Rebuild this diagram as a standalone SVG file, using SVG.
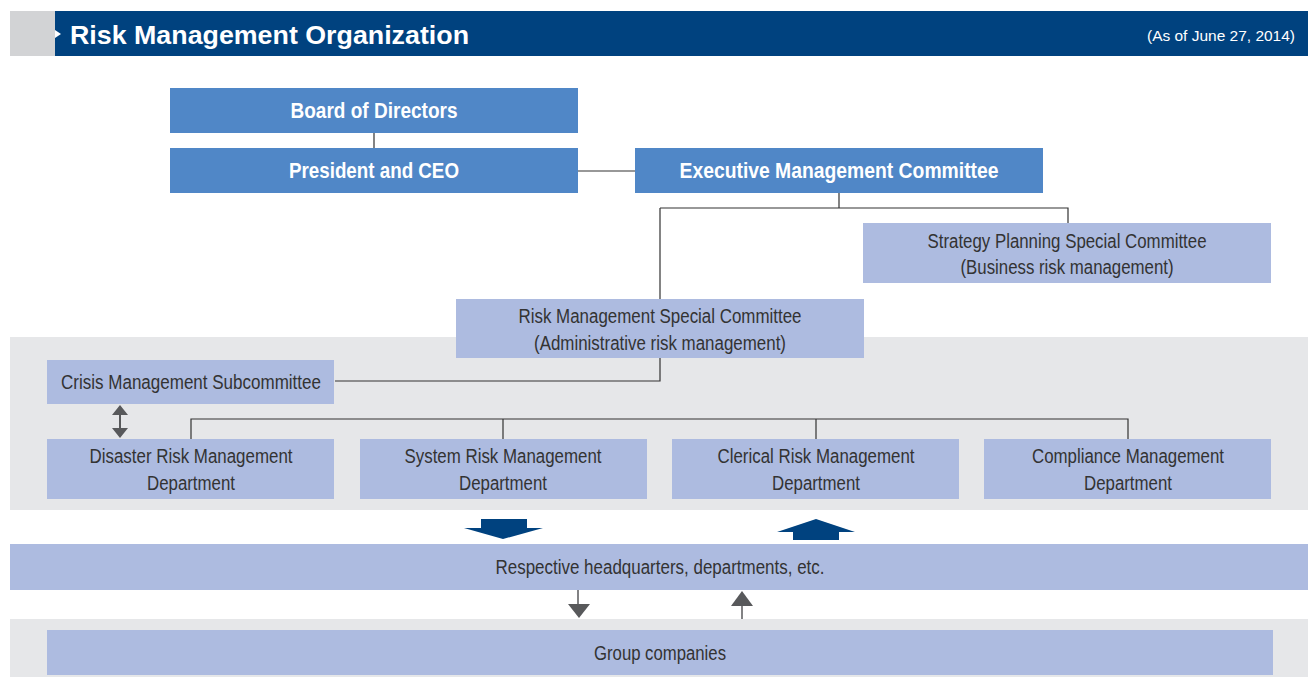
<svg xmlns="http://www.w3.org/2000/svg" width="1311" height="677" viewBox="0 0 1311 677">
<style>
.dark{fill:#5087c7}
.light{fill:#adbbe0}
.panel{fill:#e6e7e9}
.tw{font-family:"Liberation Sans",Arial,sans-serif;font-size:22px;font-weight:bold;fill:#fff;text-anchor:middle}
.tl{font-family:"Liberation Sans",Arial,sans-serif;font-size:20px;fill:#333;text-anchor:middle}
.ln{stroke:#333;stroke-width:1.2;fill:none}
</style>
<rect x="0" y="0" width="1311" height="677" fill="#fff"/>
<g id="header">
<rect x="10" y="11" width="45" height="45" fill="#d2d3d5"/>
<rect x="55" y="11" width="1253" height="45" fill="#00427f"/>
<polygon points="55,30 61,34 55,38" fill="#fff"/>
<text x="70" y="44" font-family="Liberation Sans,Arial,sans-serif" font-size="25" font-weight="bold" fill="#fff" textLength="399" lengthAdjust="spacingAndGlyphs">Risk Management Organization</text>
<text x="1147" y="41" font-family="Liberation Sans,Arial,sans-serif" font-size="15" fill="#fff" textLength="148" lengthAdjust="spacingAndGlyphs">(As of June 27, 2014)</text>
</g>
<rect class="panel" x="10" y="337" width="1298" height="173"/>
<rect class="panel" x="10" y="619" width="1298" height="58"/>
<g id="connectors">
<path class="ln" d="M374 133V148M578 171H635M839 193V208M660 208H1068V223M660 208V299M660 358V381H335M191 439V419H1128V439M503 419V439M816 419V439"/>
<path d="M120 405 L128 415 L112 415 Z M120 438 L128 428 L112 428 Z" fill="#58595b"/>
<rect x="119" y="414" width="2" height="15" fill="#58595b"/>
<path d="M481 519H527V528H543L503 539L464 528H481Z" fill="#00427f"/>
<path d="M816 519L855 532H839V540H793V532H777Z" fill="#00427f"/>
<line x1="578" y1="590" x2="578" y2="605" stroke="#58595b" stroke-width="1.5"/>
<path d="M568 604H590L579 618Z" fill="#58595b"/>
<line x1="742" y1="605" x2="742" y2="619" stroke="#58595b" stroke-width="1.5"/>
<path d="M742 591L753 606H731Z" fill="#58595b"/>
</g>
<g id="board"><rect class="dark" x="170" y="88" width="408" height="45"/><text class="tw" x="374" y="118" textLength="167" lengthAdjust="spacingAndGlyphs">Board of Directors</text></g>
<g id="president"><rect class="dark" x="170" y="148" width="408" height="45"/><text class="tw" x="374" y="178" textLength="170" lengthAdjust="spacingAndGlyphs">President and CEO</text></g>
<g id="exec"><rect class="dark" x="635" y="148" width="408" height="45"/><text class="tw" x="839" y="178" textLength="319" lengthAdjust="spacingAndGlyphs">Executive Management Committee</text></g>
<g id="strategy"><rect class="light" x="863" y="223" width="408" height="60"/><text class="tl" x="1067" y="248" textLength="279" lengthAdjust="spacingAndGlyphs">Strategy Planning Special Committee</text><text class="tl" x="1067" y="274" textLength="213" lengthAdjust="spacingAndGlyphs">(Business risk management)</text></g>
<g id="riskcommittee"><rect class="light" x="456" y="299" width="408" height="59"/><text class="tl" x="660" y="323" textLength="283" lengthAdjust="spacingAndGlyphs">Risk Management Special Committee</text><text class="tl" x="660" y="350" textLength="252" lengthAdjust="spacingAndGlyphs">(Administrative risk management)</text></g>
<g id="crisis"><rect class="light" x="47" y="360" width="287" height="44"/><text class="tl" x="191" y="389" textLength="260" lengthAdjust="spacingAndGlyphs">Crisis Management Subcommittee</text></g>
<g id="disaster"><rect class="light" x="47" y="439" width="287" height="60"/><text class="tl" x="191" y="463" textLength="203" lengthAdjust="spacingAndGlyphs">Disaster Risk Management</text><text class="tl" x="191" y="490" textLength="88" lengthAdjust="spacingAndGlyphs">Department</text></g>
<g id="system"><rect class="light" x="360" y="439" width="287" height="60"/><text class="tl" x="503" y="463" textLength="197" lengthAdjust="spacingAndGlyphs">System Risk Management</text><text class="tl" x="503" y="490" textLength="88" lengthAdjust="spacingAndGlyphs">Department</text></g>
<g id="clerical"><rect class="light" x="672" y="439" width="287" height="60"/><text class="tl" x="816" y="463" textLength="197" lengthAdjust="spacingAndGlyphs">Clerical Risk Management</text><text class="tl" x="816" y="490" textLength="88" lengthAdjust="spacingAndGlyphs">Department</text></g>
<g id="compliance"><rect class="light" x="984" y="439" width="287" height="60"/><text class="tl" x="1128" y="463" textLength="192" lengthAdjust="spacingAndGlyphs">Compliance Management</text><text class="tl" x="1128" y="490" textLength="88" lengthAdjust="spacingAndGlyphs">Department</text></g>
<g id="respective"><rect class="light" x="10" y="544" width="1298" height="46"/><text class="tl" x="660" y="574" textLength="329" lengthAdjust="spacingAndGlyphs">Respective headquarters, departments, etc.</text></g>
<g id="group"><rect class="light" x="47" y="630" width="1226" height="45"/><text class="tl" x="660" y="660" textLength="132" lengthAdjust="spacingAndGlyphs">Group companies</text></g>
</svg>
